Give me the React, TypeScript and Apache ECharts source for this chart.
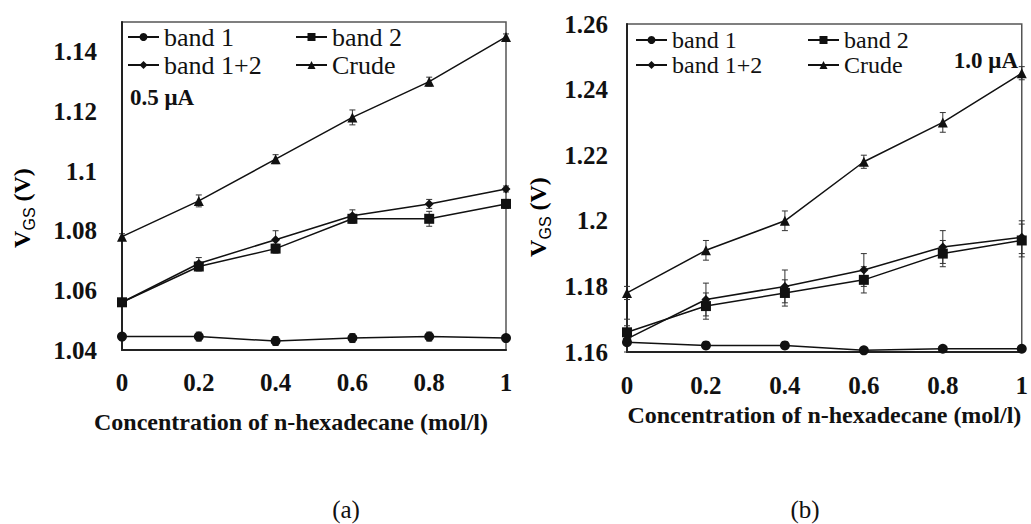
import React, { useEffect, useRef } from "react";
import * as echarts from "echarts";

const xValues = [0, 0.2, 0.4, 0.6, 0.8, 1];
const xTickLabels = ["0", "0.2", "0.4", "0.6", "0.8", "1"];

const seriesNames = ["band 1", "band 2", "band 1+2", "Crude"];
const seriesSymbols = ["circle", "rect", "diamond", "triangle"];

// Panel (a): 0.5 µA
const aBand1 = [1.0445, 1.0445, 1.043, 1.044, 1.0445, 1.044];
const aBand2 = [1.056, 1.068, 1.074, 1.084, 1.084, 1.089];
const aBand12 = [1.056, 1.069, 1.077, 1.085, 1.089, 1.094];
const aCrude = [1.078, 1.09, 1.104, 1.118, 1.13, 1.145];
const aBand1Err = [0.001, 0.0015, 0.0015, 0.0015, 0.0015, 0.001];
const aBand2Err = [0.001, 0.0015, 0.0015, 0.0015, 0.0025, 0.0015];
const aBand12Err = [0.001, 0.002, 0.003, 0.002, 0.0015, 0.001];
const aCrudeErr = [0.001, 0.002, 0.0015, 0.0025, 0.0015, 0.001];
const aYTicks = ["1.04", "1.06", "1.08", "1.1", "1.12", "1.14"];

// Panel (b): 1.0 µA
const bBand1 = [1.163, 1.162, 1.162, 1.1605, 1.161, 1.161];
const bBand2 = [1.166, 1.174, 1.178, 1.182, 1.19, 1.194];
const bBand12 = [1.164, 1.176, 1.18, 1.185, 1.192, 1.195];
const bCrude = [1.178, 1.191, 1.2, 1.218, 1.23, 1.245];
const bBand1Err = [0.001, 0.001, 0.001, 0.0008, 0.0008, 0.0008];
const bBand2Err = [0.004, 0.004, 0.004, 0.004, 0.004, 0.005];
const bBand12Err = [0.004, 0.005, 0.005, 0.005, 0.005, 0.005];
const bCrudeErr = [0.002, 0.003, 0.003, 0.002, 0.003, 0.002];
const bYTicks = ["1.16", "1.18", "1.2", "1.22", "1.24", "1.26"];

const SERIF = "Liberation Serif";
const SANS = "Liberation Sans";
const INK = "#111";

function buildSeries(idx: number, values: number[][], errs: number[][]) {
  const out: any[] = [];
  values.forEach((vals, i) => {
    out.push({
      type: "custom",
      name: seriesNames[i] + " error",
      xAxisIndex: idx,
      yAxisIndex: idx,
      silent: true,
      z: 2,
      data: xValues.map((x, j) => [x, vals[j] - errs[i][j], vals[j] + errs[i][j]]),
      encode: { x: 0, y: [1, 2] },
      renderItem: (params: any, api: any) => {
        const lo = api.coord([api.value(0), api.value(1)]);
        const hi = api.coord([api.value(0), api.value(2)]);
        const w = 3;
        const style = { stroke: "#333", lineWidth: 1 };
        return {
          type: "group",
          children: [
            { type: "line", shape: { x1: lo[0], y1: lo[1], x2: hi[0], y2: hi[1] }, style },
            { type: "line", shape: { x1: lo[0] - w, y1: lo[1], x2: lo[0] + w, y2: lo[1] }, style },
            { type: "line", shape: { x1: hi[0] - w, y1: hi[1], x2: hi[0] + w, y2: hi[1] }, style },
          ],
        };
      },
    });
    out.push({
      type: "line",
      name: seriesNames[i],
      xAxisIndex: idx,
      yAxisIndex: idx,
      z: 3,
      data: xValues.map((x, j) => [x, vals[j]]),
      symbol: seriesSymbols[i],
      symbolSize: seriesSymbols[i] === "diamond" ? 9 : 10,
      showSymbol: true,
      lineStyle: { color: INK, width: 1.5 },
      itemStyle: { color: INK },
    });
  });
  return out;
}

function yAxis(idx: number, min: number, max: number, ticks: string[], margin: number) {
  return {
    type: "value",
    gridIndex: idx,
    min,
    max,
    interval: 0.02,
    axisLine: { show: true, lineStyle: { color: "#222", width: 2 } },
    axisTick: { show: false },
    splitLine: { show: false },
    axisLabel: {
      margin,
      fontFamily: SERIF,
      fontWeight: "bold",
      fontSize: 25,
      color: "#111",
      formatter: (v: number) => {
        const k = Math.round((v - min) / 0.02 + 1e-9);
        if (Math.abs(min + k * 0.02 - v) > 1e-6) return "";
        return ticks[k] ?? "";
      },
    },
  };
}

function xAxis(idx: number, nameGap: number, padding: number[], margin: number) {
  return {
    type: "value",
    gridIndex: idx,
    min: 0,
    max: 1,
    interval: 0.2,
    name: "Concentration of n-hexadecane (mol/l)",
    nameLocation: "middle",
    nameGap,
    nameTextStyle: {
      fontFamily: SERIF,
      fontWeight: "bold",
      fontSize: 24,
      color: "#111",
      padding,
    },
    axisLine: { show: true, lineStyle: { color: "#222", width: 2 } },
    axisTick: { show: false },
    splitLine: { show: false },
    axisLabel: {
      margin,
      fontFamily: SERIF,
      fontWeight: "bold",
      fontSize: 25,
      color: "#111",
      formatter: (v: number) => {
        const k = Math.round(v / 0.2);
        return xTickLabels[k] ?? "";
      },
    },
  };
}

function legend(left: number, top: number, data: string[], gap: number, size: number) {
  return {
    left,
    top,
    orient: "vertical",
    data,
    itemWidth: 31,
    itemHeight: 10,
    itemGap: gap,
    selectedMode: false,
    padding: 0,
    textStyle: { fontFamily: SERIF, fontSize: size, color: "#111", lineHeight: size },
  };
}

const ytitleRich = {
  v: { fontFamily: SERIF, fontWeight: "bold", fontSize: 24, color: "#111", lineHeight: 30 },
  s: {
    fontFamily: SANS,
    fontSize: 16,
    color: "#111",
    lineHeight: 16,
    verticalAlign: "bottom",
  },
};

export default function App() {
  const ref = useRef<HTMLDivElement>(null);
  useEffect(() => {
    if (!ref.current) return;
    const chart = echarts.init(ref.current, undefined, { renderer: "svg" });
    chart.setOption({
      animation: false,
      backgroundColor: "#fff",
      textStyle: { fontFamily: SERIF },
      grid: [
        { left: 122, top: 22, width: 384, height: 328, show: true, borderColor: "#555", borderWidth: 1.5 },
        { left: 627, top: 24, width: 395, height: 328, show: true, borderColor: "#555", borderWidth: 1.5 },
      ],
      xAxis: [xAxis(0, 60, [0, 46, 0, 0], 20), xAxis(1, 49, [0, 0, 0, 0], 21)],
      yAxis: [yAxis(0, 1.04, 1.15, aYTicks, 25), yAxis(1, 1.16, 1.26, bYTicks, 19)],
      legend: [
        legend(127, 24, ["band 1", "band 1+2"], 2, 26),
        legend(295, 24, ["band 2", "Crude"], 2, 26),
        legend(635, 28, ["band 1", "band 1+2"], 1, 24),
        legend(807, 28, ["band 2", "Crude"], 1, 24),
      ],
      series: [
        ...buildSeries(0, [aBand1, aBand2, aBand12, aCrude], [aBand1Err, aBand2Err, aBand12Err, aCrudeErr]),
        ...buildSeries(1, [bBand1, bBand2, bBand12, bCrude], [bBand1Err, bBand2Err, bBand12Err, bCrudeErr]),
      ],
      graphic: [
        {
          type: "text",
          x: 22,
          y: 208,
          rotation: Math.PI / 2,
          style: { text: "{v|V}{s|GS}{v| (V)}", rich: ytitleRich, align: "center", verticalAlign: "middle" },
        },
        {
          type: "text",
          x: 538,
          y: 217,
          rotation: Math.PI / 2,
          style: { text: "{v|V}{s|GS}{v| (V)}", rich: ytitleRich, align: "center", verticalAlign: "middle" },
        },
        {
          type: "text",
          x: 130,
          y: 97,
          style: { text: "0.5 μA", fontFamily: SERIF, fontWeight: "bold", fontSize: 23, fill: "#111", align: "left", verticalAlign: "middle" },
        },
        {
          type: "text",
          x: 1018,
          y: 60,
          style: { text: "1.0 μA", fontFamily: SERIF, fontWeight: "bold", fontSize: 23, fill: "#111", align: "right", verticalAlign: "middle" },
        },
        {
          type: "text",
          x: 346,
          y: 509,
          style: { text: "(a)", fontFamily: SERIF, fontSize: 25, fill: "#111", align: "center", verticalAlign: "middle" },
        },
        {
          type: "text",
          x: 805,
          y: 509,
          style: { text: "(b)", fontFamily: SERIF, fontSize: 25, fill: "#111", align: "center", verticalAlign: "middle" },
        },
      ],
    });
    return () => chart.dispose();
  }, []);
  return (
    <div
      ref={ref}
      style={{ position: "fixed", left: 0, top: 0, width: 1031, height: 524, background: "#fff" }}
    />
  );
}
